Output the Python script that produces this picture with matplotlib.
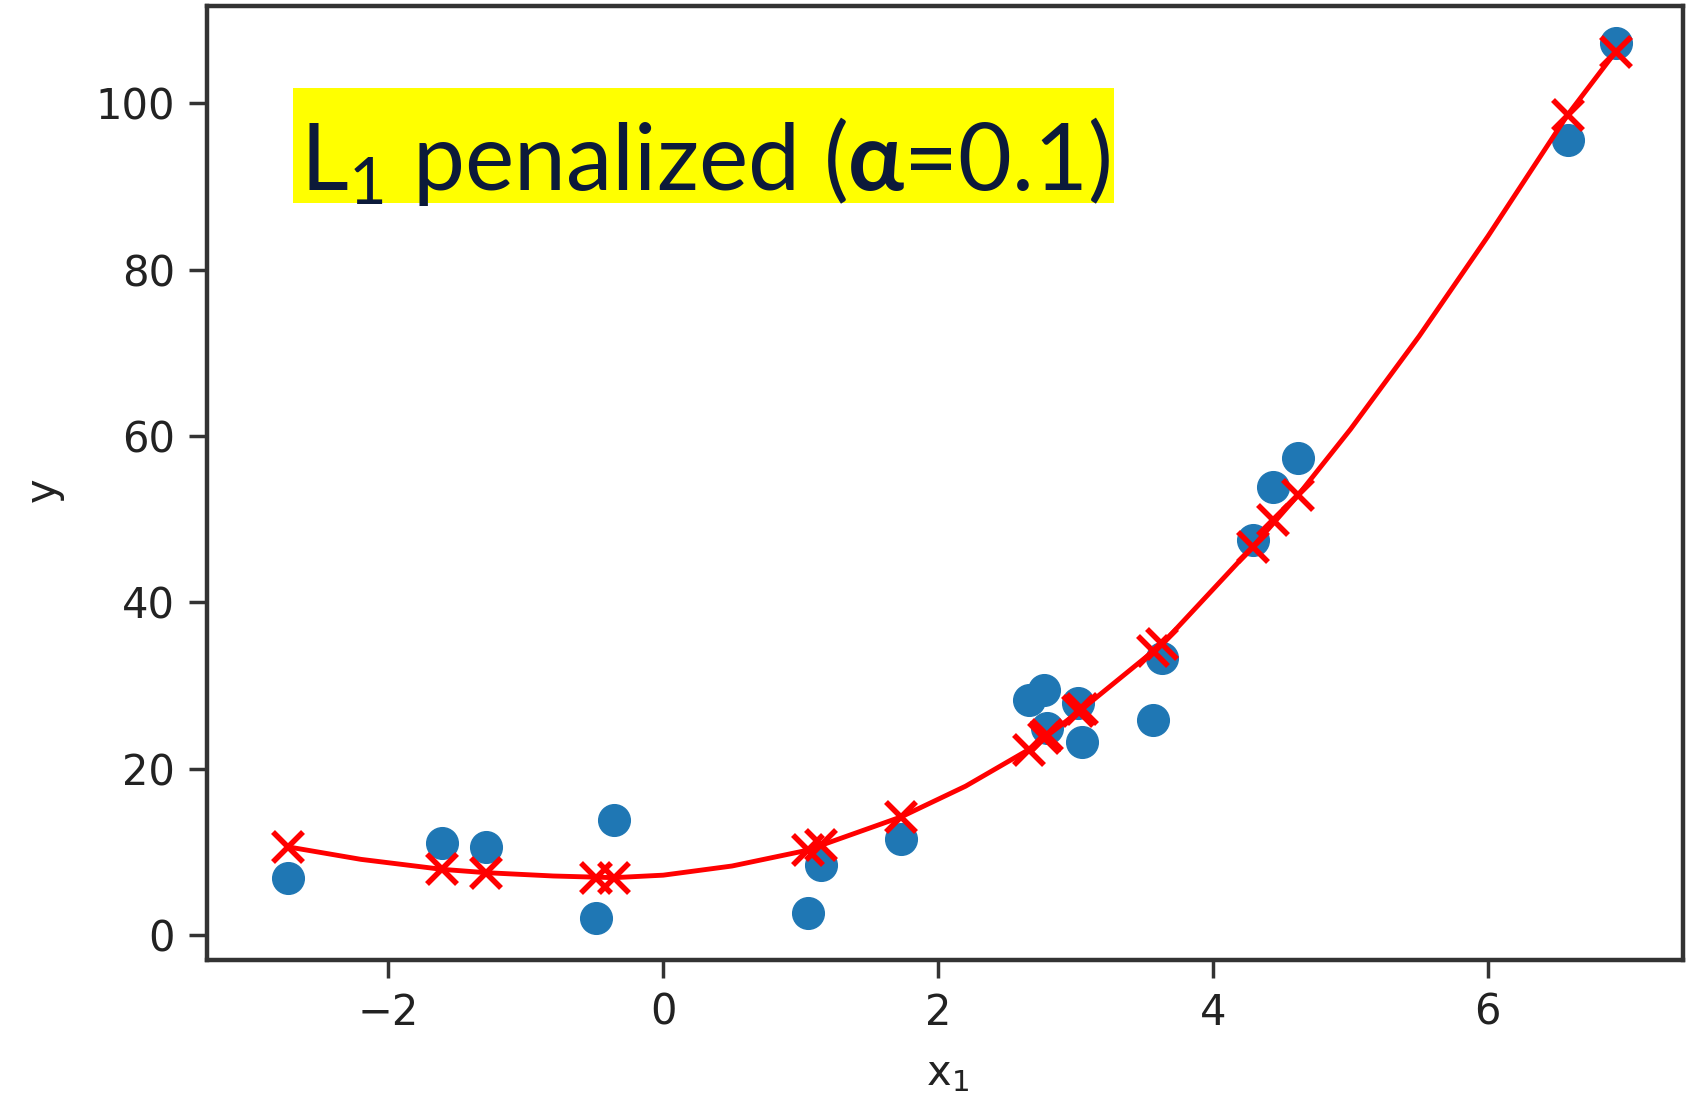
import matplotlib
matplotlib.use("Agg")
import matplotlib.pyplot as plt
from matplotlib.patches import Rectangle

# training inputs, noisy targets and the L1-penalized model predictions
x1 = [-2.73, -1.61, -1.29, -0.49, -0.36, 1.05, 1.15, 1.73, 2.66, 2.77,
      2.79, 3.02, 3.05, 3.56, 3.63, 4.29, 4.44, 4.62, 6.58, 6.93]
y = [6.8, 11.1, 10.6, 2.0, 13.8, 2.6, 8.4, 11.6, 28.3, 29.5,
     24.9, 27.9, 23.2, 25.9, 33.3, 47.5, 53.9, 57.3, 95.6, 107.3]
y_pred = [10.6, 7.9, 7.5, 6.9, 6.9, 10.2, 10.8, 14.2, 22.3, 23.7,
          24.0, 26.9, 27.2, 34.2, 35.0, 46.7, 49.9, 52.9, 98.6, 106.2]
# fitted curve, sampled along x
curve_x = [-2.73, -2.2, -1.61, -1.29, -0.8, -0.36, 0.0, 0.5, 1.05, 1.15, 1.73,
           2.2, 2.66, 3.05, 3.63, 4.29, 4.62, 5.0, 5.5, 6.0, 6.58, 6.93]
curve_y = [10.6, 9.1, 7.9, 7.5, 7.1, 6.9, 7.2, 8.3, 10.2, 10.8, 14.2,
           17.9, 22.3, 27.2, 35.0, 46.7, 52.9, 60.8, 72.0, 84.0, 98.6, 106.2]
x_ticks = [-2, 0, 2, 4, 6]
y_ticks = [0, 20, 40, 60, 80, 100]
title = r"L$_1$ penalized ($\mathbf{\alpha}$=0.1)"

plt.rcParams['mathtext.fontset'] = 'custom'
plt.rcParams['mathtext.rm'] = 'Lato'
plt.rcParams['mathtext.it'] = 'Lato:italic'
plt.rcParams['mathtext.bf'] = 'Lato:bold'

fig = plt.figure(figsize=(16.91, 11.10), dpi=100)
ax = fig.add_axes([207 / 1691, 1 - 960 / 1110, (1683 - 207) / 1691, (960 - 6) / 1110])

ax.scatter(x1, y, s=520, color='#1f77b4', zorder=2)
ax.plot(curve_x, curve_y, '-', color='red', lw=3.5, zorder=3)
ax.plot(x1, y_pred, 'x', color='red', markersize=22, mew=4, zorder=3)

ax.set_xlim(-3.32, 7.42)
ax.set_ylim(-3.0, 111.7)
ax.set_xticks(x_ticks)
ax.set_yticks(y_ticks)
ax.tick_params(labelsize=30, length=13, width=2.5, color='#333333', labelcolor='#222222', pad=10)
for s in ax.spines.values():
    s.set_linewidth(3.2)
    s.set_color('#333333')

fig.text(43 / 1691, 1 - 490 / 1110, 'y', fontsize=30, rotation=90, ha='center', va='center', color='#222222',
         family='DejaVu Sans')
fig.text(947 / 1691, 1 - 1073 / 1110, r'$\mathdefault{x_1}$', fontsize=30, ha='center', va='center',
         color='#222222', family='DejaVu Sans', math_fontfamily='dejavusans')

# highlighted caption
fig.patches.append(Rectangle((293 / 1691, 1 - 203 / 1110), (1114 - 293) / 1691, (203 - 88) / 1110,
                             transform=fig.transFigure, facecolor='yellow', edgecolor='none', zorder=5))
fig.text(300 / 1691, 1 - 190 / 1110, title, fontsize=67, family='Lato', color='#0c1a3a',
         ha='left', va='baseline', zorder=6)

fig.savefig('out.png', dpi=100)
